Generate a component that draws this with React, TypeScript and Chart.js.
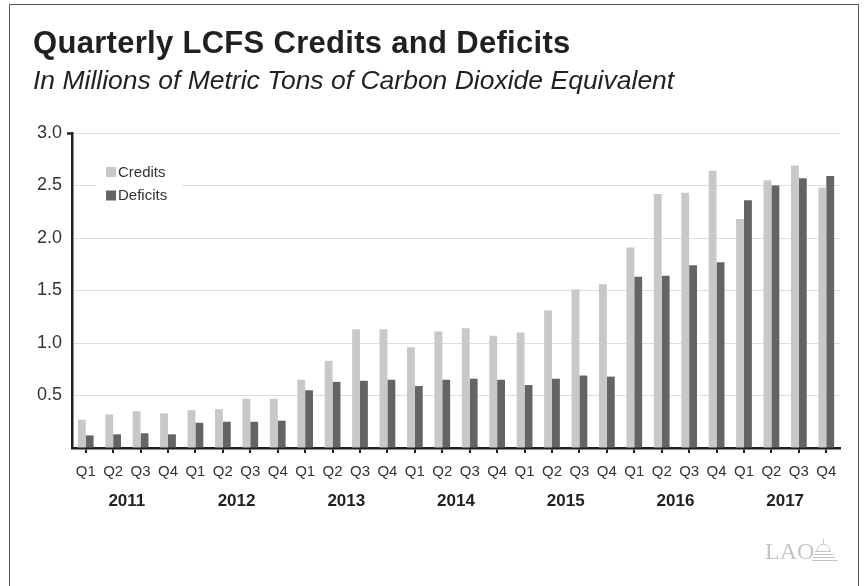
import React, { useEffect, useRef } from "react";
import { Chart, registerables } from "chart.js";

Chart.register(...registerables);

const years = ["2011", "2012", "2013", "2014", "2015", "2016", "2017"];
const quarters = ["Q1", "Q2", "Q3", "Q4"];
const credits = [
  0.27, 0.32, 0.35, 0.33,
  0.36, 0.37, 0.47, 0.47,
  0.65, 0.83, 1.13, 1.13,
  0.96, 1.11, 1.14, 1.07,
  1.10, 1.31, 1.51, 1.56,
  1.91, 2.42, 2.43, 2.64,
  2.18, 2.55, 2.69, 2.48,
];
const deficits = [
  0.12, 0.13, 0.14, 0.13,
  0.24, 0.25, 0.25, 0.26,
  0.55, 0.63, 0.64, 0.65,
  0.59, 0.65, 0.66, 0.65,
  0.60, 0.66, 0.69, 0.68,
  1.63, 1.64, 1.74, 1.77,
  2.36, 2.50, 2.57, 2.59,
];
const seriesNames = ["Credits", "Deficits"];
const seriesColors = ["#c7c8ca", "#636466"];
const yTicks = { min: 0, max: 3, step: 0.5 };

const FONT = "'Liberation Sans', Arial, Helvetica, sans-serif";
const INK = "#231f20";

const overlayPlugin = {
  id: "overlay",
  afterDraw(chart: any) {
    const ctx = chart.ctx;
    ctx.save();
    // legend box
    ctx.fillStyle = "#ffffff";
    ctx.fillRect(96, 156, 86, 52);
    ctx.font = `15px ${FONT}`;
    ctx.textBaseline = "middle";
    ctx.textAlign = "left";
    chart.data.datasets.forEach((ds: any, i: number) => {
      const cy = 172 + i * 23.5;
      ctx.fillStyle = ds.backgroundColor;
      ctx.fillRect(106, cy - 5, 10, 10);
      ctx.fillStyle = "#333333";
      ctx.fillText(ds.label, 118, cy + 0.5);
    });
    // LAO dome icon
    ctx.strokeStyle = "#c4c4c4";
    ctx.fillStyle = "#c4c4c4";
    ctx.lineWidth = 1;
    const cx = 823;
    ctx.beginPath();
    ctx.moveTo(cx + 0.5, 539);
    ctx.lineTo(cx + 0.5, 544);
    ctx.stroke();
    ctx.beginPath();
    ctx.arc(cx + 0.5, 551, 6.5, Math.PI, 0);
    ctx.stroke();
    const rows = [
      [815, 831, 551.5],
      [814, 833, 554.5],
      [813, 835, 557.5],
      [812, 838, 560.5],
    ];
    rows.forEach(([a, b, y]) => {
      ctx.beginPath();
      ctx.moveTo(a, y);
      ctx.lineTo(b, y);
      ctx.stroke();
    });
    ctx.restore();
  },
};

export default function App() {
  const ref = useRef<HTMLCanvasElement | null>(null);

  useEffect(() => {
    if (!ref.current) return;
    const labels = years.flatMap(() => quarters);
    const chart = new Chart(ref.current, {
      type: "bar",
      data: {
        labels,
        datasets: [
          {
            label: seriesNames[0],
            data: credits,
            backgroundColor: seriesColors[0],
            barPercentage: 1,
            categoryPercentage: 0.575,
          },
          {
            label: seriesNames[1],
            data: deficits,
            backgroundColor: seriesColors[1],
            barPercentage: 1,
            categoryPercentage: 0.575,
          },
        ],
      },
      options: {
        responsive: false,
        animation: false,
        devicePixelRatio: 1,
        layout: { padding: { top: 133, right: 25, left: 0, bottom: 63 } },
        plugins: {
          legend: { display: false },
          title: { display: false },
          tooltip: { enabled: false },
        },
        scales: {
          x: {
            type: "category",
            position: "bottom",
            weight: 0,
            z: 1,
            offset: true,
            grid: {
              display: true,
              drawOnChartArea: false,
              drawTicks: true,
              tickLength: 5,
              offset: false,
              color: INK,
              lineWidth: 2,
            },
            border: { display: true, color: INK, width: 2.5 },
            ticks: {
              autoSkip: false,
              maxRotation: 0,
              minRotation: 0,
              padding: 10,
              color: "#333333",
              font: { family: FONT, size: 15 },
            },
            afterFit: (s: any) => {
              s.height = 35;
            },
          },
          x2: {
            type: "category",
            position: "bottom",
            weight: 1,
            labels: years,
            offset: true,
            grid: { display: false, drawTicks: false },
            border: { display: false },
            ticks: {
              autoSkip: false,
              maxRotation: 0,
              minRotation: 0,
              padding: 8,
              color: INK,
              font: { family: FONT, size: 17, weight: "bold" },
            },
            afterFit: (s: any) => {
              s.height = 40;
            },
          },
          y: {
            min: yTicks.min,
            max: yTicks.max,
            grid: {
              color: "#dcdddf",
              lineWidth: 1,
              drawTicks: true,
              tickLength: 5,
              tickWidth: 2.5,
              tickColor: (c: any) =>
                c.tick && c.tick.value === yTicks.max ? INK : "rgba(0,0,0,0)",
            },
            border: { display: true, color: INK, width: 2.5 },
            ticks: {
              stepSize: yTicks.step,
              padding: 5,
              color: "#333333",
              font: { family: FONT, size: 18 },
              callback: (v: any) => (Number(v) === 0 ? "" : Number(v).toFixed(1)),
            },
            afterFit: (s: any) => {
              s.width = 72;
            },
          },
        },
      },
      plugins: [overlayPlugin],
    });
    return () => chart.destroy();
  }, []);

  return (
    <div
      style={{
        position: "fixed",
        left: 0,
        top: 0,
        width: 865,
        height: 586,
        background: "#ffffff",
        overflow: "hidden",
      }}
    >
      <canvas
        ref={ref}
        width={865}
        height={586}
        style={{ position: "absolute", left: 0, top: 0, width: 865, height: 586 }}
      />
      <div
        style={{
          position: "absolute",
          left: 9,
          top: 4,
          width: 850,
          height: 620,
          border: "1.5px solid #58595b",
          boxSizing: "border-box",
          pointerEvents: "none",
        }}
      />
      <div
        style={{
          position: "absolute",
          left: 33,
          top: 25,
          fontFamily: FONT,
          fontWeight: "bold",
          fontSize: 31,
          letterSpacing: 0.3,
          color: INK,
          whiteSpace: "nowrap",
          lineHeight: "36px",
        }}
      >
        Quarterly LCFS Credits and Deficits
      </div>
      <div
        style={{
          position: "absolute",
          left: 33,
          top: 65,
          fontFamily: FONT,
          fontStyle: "italic",
          fontSize: 26.5,
          color: INK,
          whiteSpace: "nowrap",
          lineHeight: "30px",
        }}
      >
        In Millions of Metric Tons of Carbon Dioxide Equivalent
      </div>
      <div
        style={{
          position: "absolute",
          left: 765,
          top: 537,
          fontFamily: "'Liberation Serif', 'DejaVu Serif', serif",
          fontSize: 24,
          color: "#c4c4c4",
          whiteSpace: "nowrap",
          lineHeight: "28px",
        }}
      >
        LAO
      </div>
    </div>
  );
}
